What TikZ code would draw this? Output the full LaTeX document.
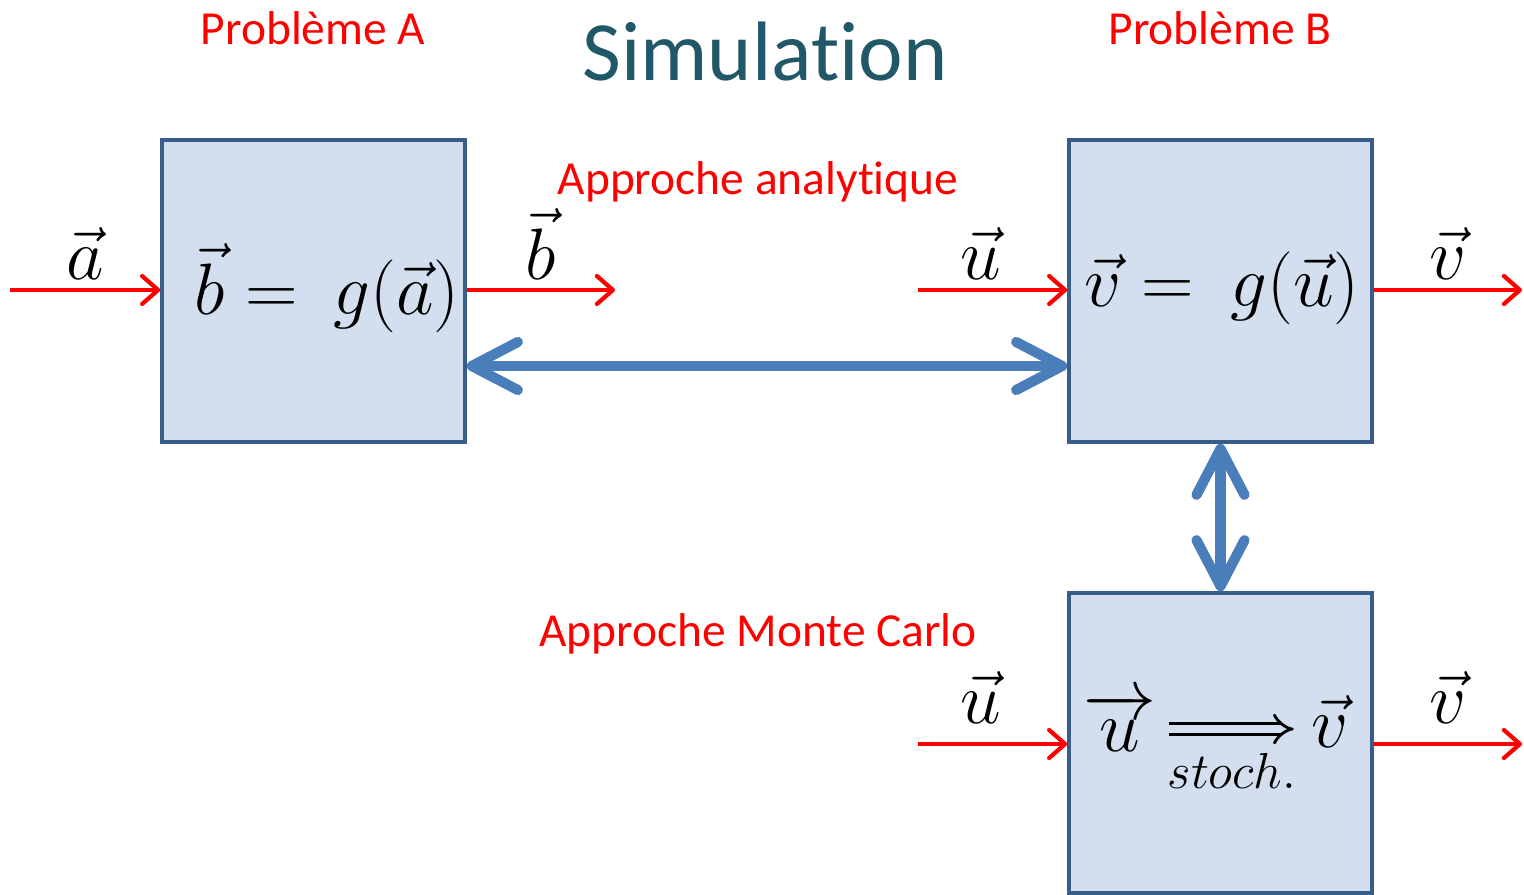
\documentclass[tikz,border=0pt]{standalone}
\usepackage{amsmath}
\usepackage{fontspec}
\setmainfont{Carlito}[Ligatures=NoCommon]
\usetikzlibrary{arrows.meta}

\begin{document}
\begin{tikzpicture}[
    box/.style={draw=boxline, fill=boxfill, line width=1pt, minimum width=3.03cm, minimum height=3.02cm, inner sep=0pt},
    flow/.style={draw=red, line width=1.2pt, -{Straight Barb[length=1.6mm, width=2.8mm, round]}},
    link/.style={draw=linkblue, line width=2.9pt, {Straight Barb[length=4.6mm, width=4.8mm, round]}-{Straight Barb[length=4.6mm, width=4.8mm, round]}},
    implies/.style={draw=black, line width=0.8pt, double=boxfill, double distance=2.2pt, -{Implies}},
    redtext/.style={text=red, font=\fontsize{13.5}{16}\selectfont},
    mathtext/.style={font=\fontsize{20}{24}\selectfont}
]
    % Colours as in the slide
    \definecolor{boxfill}{RGB}{211, 223, 238}
    \definecolor{boxline}{RGB}{56, 93, 138}
    \definecolor{linkblue}{RGB}{74, 126, 187}
    \definecolor{titleblue}{RGB}{33, 88, 104}

    % Page frame (1524 x 895 px)
    \useasboundingbox (0,0) rectangle (15.24,-8.95);

    % Headings
    \node[text=titleblue, font=\fontsize{24}{28}\selectfont] (title) at (7.65,-0.52) {Simulation};
    \node[redtext] (probA) at (3.13,-0.28) {Problème A};
    \node[redtext] (probB) at (12.20,-0.28) {Problème B};
    \node[redtext] (analytic) at (7.58,-1.82) {Approche analytique};
    \node[redtext] (montecarlo) at (7.58,-6.34) {Approche Monte Carlo};

    % The three models
    \node[box] (boxA) at (3.135,-2.91) {};
    \node[box] (boxB) at (12.205,-2.91) {};
    \node[box, minimum height=3.00cm] (boxC) at (12.205,-7.43) {};

    \node[mathtext] (eqA) at (3.27,-2.88) {$\vec{b} = \ g(\vec{a})$};
    \node[mathtext] (eqB) at (12.22,-2.88) {$\vec{v} = \ g(\vec{u})$};

    % Monte Carlo box: u => v, stochastic
    \node[mathtext, inner sep=0pt] (uC) at (11.20,-7.22) {$\overrightarrow{u}$};
    \node[mathtext, inner sep=0pt] (vC) at (13.30,-7.22) {$\vec{v}$};
    \node[font=\fontsize{15.5}{18}\selectfont, inner sep=0pt] (stoch) at (12.32,-7.71) {$stoch.$};
    \draw[implies, shorten <=0.12cm, shorten >=0.17cm] ([yshift=-2pt]uC.east) -- ([yshift=-2pt]vC.west);

    % Inputs and outputs
    \coordinate (inA) at (0.10,-2.90);
    \coordinate (outA) at (6.15,-2.90);
    \coordinate (inB) at (9.18,-2.90);
    \coordinate (outB) at (15.22,-2.90);
    \coordinate (inC) at (9.18,-7.44);
    \coordinate (outC) at (15.22,-7.44);

    \draw[flow] (inA) -- node[mathtext, above=-1pt] (labA) {$\vec{a}$} (inA -| boxA.west);
    \draw[flow] (outA -| boxA.east) -- node[mathtext, above=-1pt] (labB) {$\vec{b}$} (outA);
    \draw[flow] (inB) -- node[mathtext, above=-1pt, xshift=-0.12cm] (labU) {$\vec{u}$} (inB -| boxB.west);
    \draw[flow] (outB -| boxB.east) -- node[mathtext, above=-1pt] (labV) {$\vec{v}$} (outB);
    \draw[flow] (inC) -- node[mathtext, above=2pt, xshift=-0.12cm] (labUc) {$\vec{u}$} (inC -| boxC.west);
    \draw[flow] (outC -| boxC.east) -- node[mathtext, above=2pt] (labVc) {$\vec{v}$} (outC);

    % Equivalences between the approaches
    \draw[link] ([yshift=-0.75cm]boxA.east) -- ([yshift=-0.75cm]boxB.west);
    \draw[link] (boxB.south) -- (boxC.north);

\end{tikzpicture}
\end{document}
